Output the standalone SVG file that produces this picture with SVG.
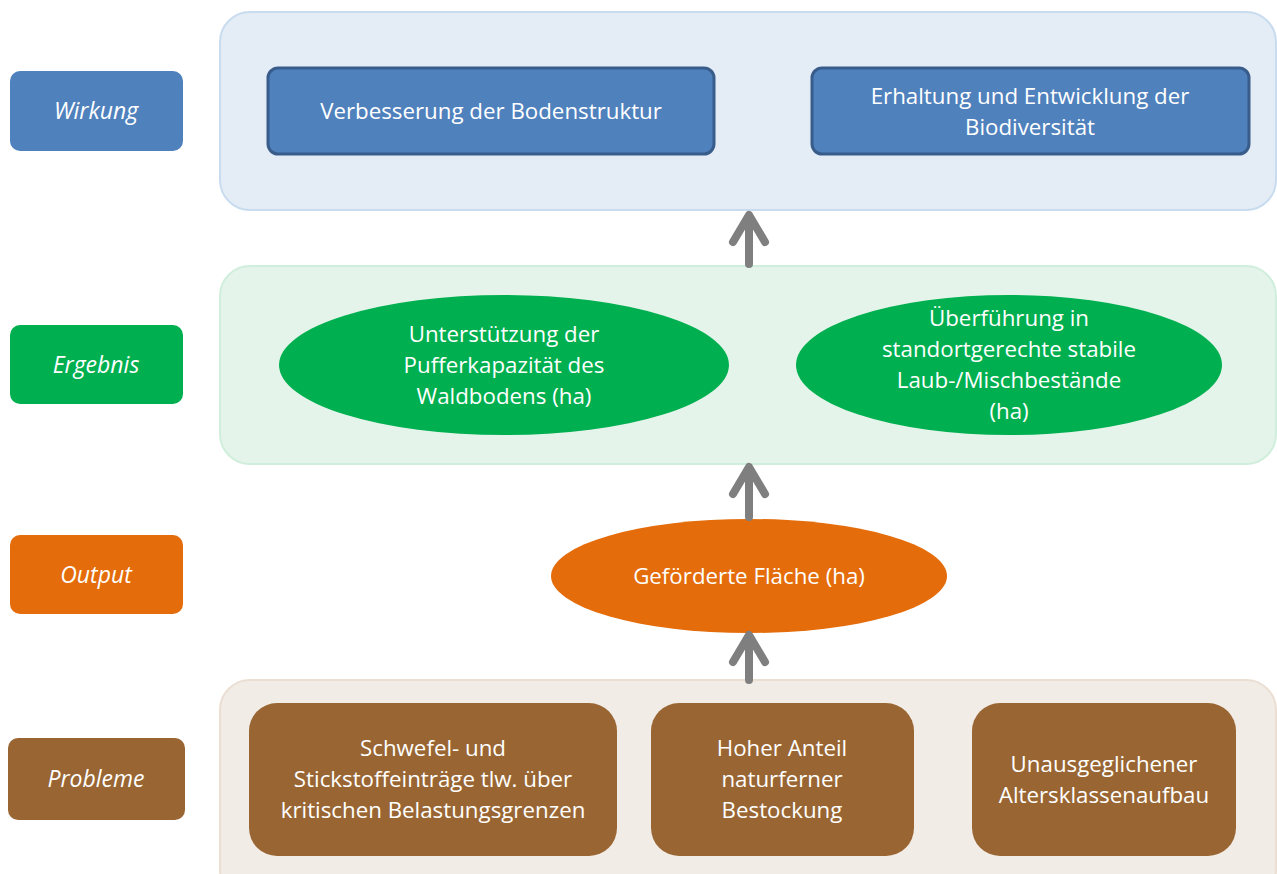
<svg xmlns="http://www.w3.org/2000/svg" width="1277" height="874" viewBox="0 0 1277 874">
<style>
text{font-family:"Open Sans","Liberation Sans",sans-serif;fill:#fff;font-size:22.3px;text-anchor:middle}
.lab{font-style:italic;font-size:23px}
.arr{stroke:#7f7f7f;stroke-width:8;fill:none;stroke-linecap:round;stroke-linejoin:round}
</style>
<rect width="1277" height="874" fill="#fff"/>
<g id="wirkung-label"><rect x="10" y="71" width="173" height="80" rx="10" fill="#4f81bd"/><text class="lab" x="96" y="119">Wirkung</text></g>
<g id="ergebnis-label"><rect x="10" y="325" width="173" height="79" rx="10" fill="#00b050"/><text class="lab" x="96" y="373">Ergebnis</text></g>
<g id="output-label"><rect x="10" y="535" width="173" height="79" rx="10" fill="#e46c0a"/><text class="lab" x="96" y="583">Output</text></g>
<g id="probleme-label"><rect x="8" y="738" width="177" height="82" rx="10" fill="#996633"/><text class="lab" x="96" y="787">Probleme</text></g>

<g id="wirkung-container"><rect x="220" y="12" width="1056" height="198" rx="30" fill="#e4ecf6" stroke="#c9dcef" stroke-width="2"/></g>
<g id="w1"><rect x="268" y="68" width="446" height="86" rx="10" fill="#4f81bd" stroke="#385d8a" stroke-width="3"/><text x="491" y="119">Verbesserung der Bodenstruktur</text></g>
<g id="w2"><rect x="812" y="68" width="437" height="86" rx="10" fill="#4f81bd" stroke="#385d8a" stroke-width="3"/><text x="1030" y="104">Erhaltung und Entwicklung der</text><text x="1030" y="135">Biodiversität</text></g>

<g id="ergebnis-container"><rect x="220" y="266" width="1056" height="198" rx="30" fill="#e4f4ea" stroke="#d0eedc" stroke-width="2"/></g>
<g id="e1"><ellipse cx="504" cy="365" rx="225" ry="70" fill="#00b050"/><text x="504" y="342">Unterstützung der</text><text x="504" y="373">Pufferkapazität des</text><text x="504" y="404">Waldbodens (ha)</text></g>
<g id="e2"><ellipse cx="1009" cy="365" rx="213" ry="70" fill="#00b050"/><text x="1009" y="326">Überführung in</text><text x="1009" y="357">standortgerechte stabile</text><text x="1009" y="388">Laub-/Mischbestände</text><text x="1009" y="419">(ha)</text></g>

<g id="output"><ellipse cx="749" cy="576" rx="198" ry="57" fill="#e46c0a"/><text x="749" y="584">Geförderte Fläche (ha)</text></g>

<g id="probleme-container"><rect x="220" y="680" width="1056" height="220" rx="30" fill="#f2ece6" stroke="#ebdfd3" stroke-width="2"/></g>
<g id="p1"><rect x="249" y="703" width="368" height="153" rx="28" fill="#996633"/><text x="433" y="756">Schwefel- und</text><text x="433" y="787">Stickstoffeinträge tlw. über</text><text x="433" y="818">kritischen Belastungsgrenzen</text></g>
<g id="p2"><rect x="651" y="703" width="263" height="153" rx="28" fill="#996633"/><text x="782" y="756">Hoher Anteil</text><text x="782" y="787">naturferner</text><text x="782" y="818">Bestockung</text></g>
<g id="p3"><rect x="972" y="703" width="264" height="153" rx="28" fill="#996633"/><text x="1104" y="772">Unausgeglichener</text><text x="1104" y="803">Altersklassenaufbau</text></g>

<g id="connectors">
<path class="arr" d="M749 264V216M733 242L749 215L765 242"/>
<path class="arr" d="M749 517V468M733 494L749 467L765 494"/>
<path class="arr" d="M749 680V636M733 662L749 635L765 662"/>
</g>
</svg>
